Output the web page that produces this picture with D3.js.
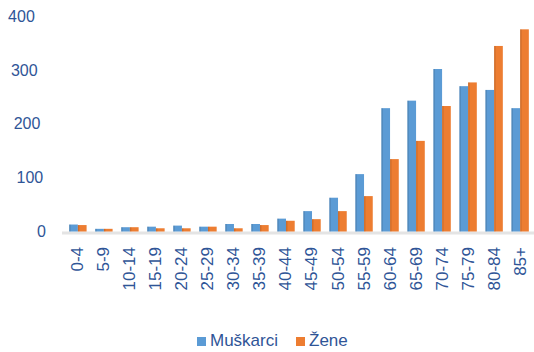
<!DOCTYPE html>
<html><head><meta charset="utf-8">
<script src="https://cdn.jsdelivr.net/npm/d3@7"></script>
<style>body{margin:0;background:#fff}svg{display:block}</style>
</head><body>
<script>
const categories = ["0-4","5-9","10-14","15-19","20-24","25-29","30-34","35-39","40-44","45-49","50-54","55-59","60-64","65-69","70-74","75-79","80-84","85+"];
const men =   [13, 5, 8, 9, 11, 9, 14, 14, 24, 38, 63, 107, 230, 244, 303, 271, 264, 230];
const women = [12, 5, 8, 6, 6, 9, 6, 12, 20, 23, 38, 66, 135, 169, 234, 278, 346, 377];
const yTicks = [0, 100, 200, 300, 400];
const seriesNames = ["Muškarci", "Žene"];
const colors = ["#5B9BD5", "#ED7D31"];
const textColor = "#2F5597";

const W = 534, H = 352;
const svg = d3.select("body").append("svg").attr("width", W).attr("height", H);
const font = "'Liberation Sans', Arial, sans-serif";

const x = d3.scaleBand().domain(categories).range([65, 533]).paddingInner(0.33).paddingOuter(0.16);
const y = d3.scaleLinear().domain([0, 400]).range([231.5, 17]);

// floor
svg.append("rect").attr("x", 62).attr("y", y(0)).attr("width", 472).attr("height", 3).attr("fill", "#e4e4e4");

// y labels with perspective skew
svg.append("g").selectAll("text").data(yTicks).join("text")
  .attr("x", d => 46 - d / 100 * 2.8)
  .attr("y", d => y(d) + 1)
  .attr("text-anchor", "end").attr("dominant-baseline", "middle")
  .attr("font-family", font).attr("font-size", 16).attr("fill", textColor)
  .text(d => d);

const sub = d3.scaleBand().domain([0, 1]).range([0, x.bandwidth()]);
const data = categories.map((c, i) => ({c, v: [men[i], women[i]]}));
const groups = svg.append("g").selectAll("g").data(data).join("g")
  .attr("transform", d => `translate(${x(d.c)},0)`);
[0, 1].forEach(s => {
  groups.append("rect")
    .attr("x", sub(s)).attr("width", sub.bandwidth())
    .attr("y", d => y(d.v[s])).attr("height", d => y(0) - y(d.v[s]))
    .attr("fill", colors[s]);
  groups.append("rect")
    .attr("x", sub(s)).attr("width", 1.5)
    .attr("y", d => y(d.v[s])).attr("height", d => y(0) - y(d.v[s]))
    .attr("fill", "#000").attr("opacity", 0.12);
});

// x labels
svg.append("g").selectAll("text").data(categories).join("text")
  .attr("transform", d => `translate(${x(d) + x.bandwidth() / 2 + 1},247) rotate(-90)`)
  .attr("text-anchor", "end").attr("dominant-baseline", "middle")
  .attr("font-family", font).attr("font-size", 17).attr("fill", textColor)
  .text(d => d);

// legend
const legendX = [197, 296];
seriesNames.forEach((n, i) => {
  svg.append("rect").attr("x", legendX[i]).attr("y", 337).attr("width", 9).attr("height", 9).attr("fill", colors[i]);
  svg.append("text").attr("x", legendX[i] + 13).attr("y", 342).attr("dominant-baseline", "middle")
    .attr("font-family", font).attr("font-size", 17).attr("fill", textColor).text(n);
});
</script>
</body></html>
